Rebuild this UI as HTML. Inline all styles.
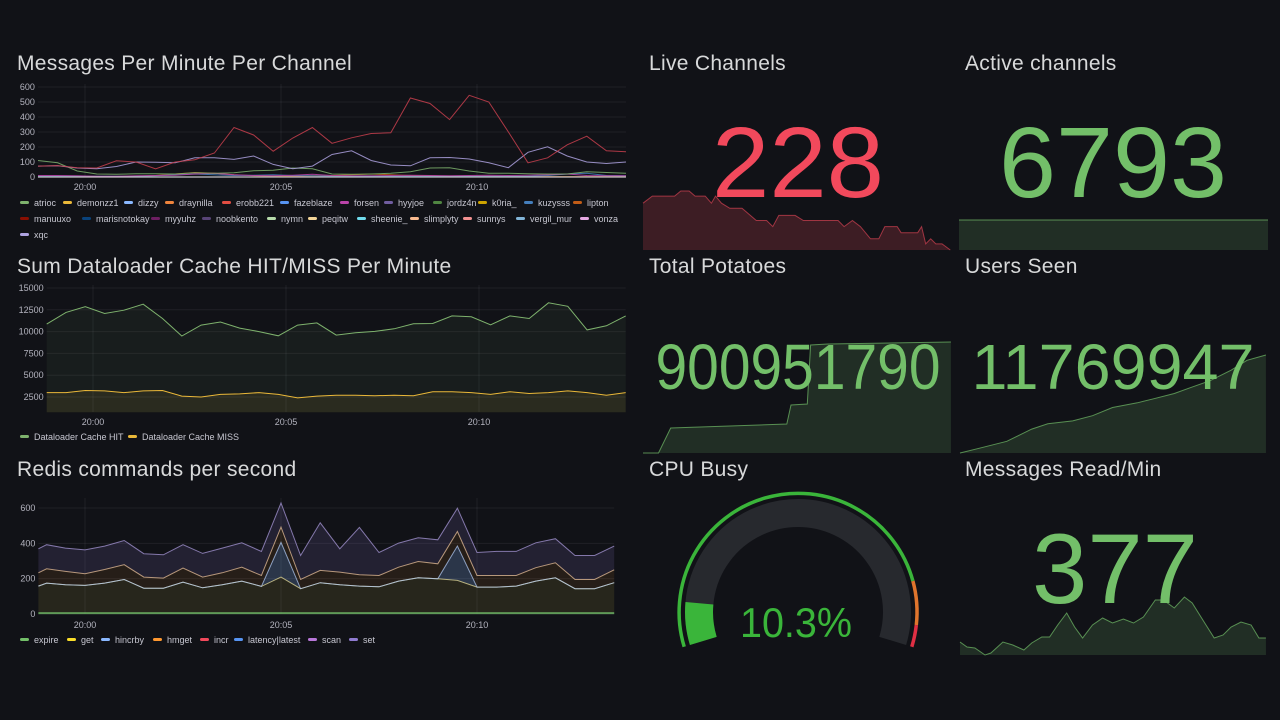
<!DOCTYPE html>
<html><head><meta charset="utf-8">
<style>
html,body{margin:0;padding:0;background:#111217;width:1280px;height:720px;overflow:hidden;font-family:"Liberation Sans",sans-serif;}
.title{position:absolute;font-size:21px;color:#d8d9da;line-height:24px;white-space:nowrap;letter-spacing:0.3px;}
.lg{position:absolute;font-size:9px;color:#c7c7d1;white-space:nowrap;line-height:12px;}
.lg i{display:inline-block;width:9px;height:3px;border-radius:2px;vertical-align:middle;margin-right:5px;margin-top:-2px;}
svg{position:absolute;left:0;top:0;}
</style></head>
<body>
<div class="title" style="left:17px;top:52px;">Messages Per Minute Per Channel</div>
<div class="title" style="left:17px;top:255px;">Sum Dataloader Cache HIT/MISS Per Minute</div>
<div class="title" style="left:17px;top:458px;">Redis commands per second</div>
<div class="title" style="left:649px;top:52px;">Live Channels</div>
<div class="title" style="left:965px;top:52px;">Active channels</div>
<div class="title" style="left:649px;top:255px;">Total Potatoes</div>
<div class="title" style="left:965px;top:255px;">Users Seen</div>
<div class="title" style="left:649px;top:458px;">CPU Busy</div>
<div class="title" style="left:965px;top:458px;">Messages Read/Min</div>

<div>
<div class="lg" style="left:20px;top:197px"><i style="background:#7EB26D"></i>atrioc</div>
<div class="lg" style="left:63px;top:197px"><i style="background:#EAB839"></i>demonzz1</div>
<div class="lg" style="left:124px;top:197px"><i style="background:#8AB8FF"></i>dizzy</div>
<div class="lg" style="left:165px;top:197px"><i style="background:#EF843C"></i>draynilla</div>
<div class="lg" style="left:222px;top:197px"><i style="background:#E24D42"></i>erobb221</div>
<div class="lg" style="left:280px;top:197px"><i style="background:#5794F2"></i>fazeblaze</div>
<div class="lg" style="left:340px;top:197px"><i style="background:#BA43A9"></i>forsen</div>
<div class="lg" style="left:384px;top:197px"><i style="background:#705DA0"></i>hyyjoe</div>
<div class="lg" style="left:433px;top:197px"><i style="background:#508642"></i>jordz4n</div>
<div class="lg" style="left:478px;top:197px"><i style="background:#CCA300"></i>k0ria_</div>
<div class="lg" style="left:524px;top:197px"><i style="background:#447EBC"></i>kuzysss</div>
<div class="lg" style="left:573px;top:197px"><i style="background:#C15C17"></i>lipton</div>
<div class="lg" style="left:20px;top:213px"><i style="background:#890F02"></i>manuuxo</div>
<div class="lg" style="left:82px;top:213px"><i style="background:#0A437C"></i>marisnotokay</div>
<div class="lg" style="left:151px;top:213px"><i style="background:#6D1F62"></i>myyuhz</div>
<div class="lg" style="left:202px;top:213px"><i style="background:#584477"></i>noobkento</div>
<div class="lg" style="left:267px;top:213px"><i style="background:#B7DBAB"></i>nymn</div>
<div class="lg" style="left:308px;top:213px"><i style="background:#F4D598"></i>peqitw</div>
<div class="lg" style="left:357px;top:213px"><i style="background:#70DBED"></i>sheenie_</div>
<div class="lg" style="left:410px;top:213px"><i style="background:#F9BA8F"></i>slimplyty</div>
<div class="lg" style="left:463px;top:213px"><i style="background:#F29191"></i>sunnys</div>
<div class="lg" style="left:516px;top:213px"><i style="background:#82B5D8"></i>vergil_mur</div>
<div class="lg" style="left:580px;top:213px"><i style="background:#E5A8E2"></i>vonza</div>
<div class="lg" style="left:20px;top:229px"><i style="background:#AEA2E0"></i>xqc</div>
</div>
<div>
<div class="lg" style="left:20px;top:431px"><i style="background:#7EB26D"></i>Dataloader Cache HIT</div>
<div class="lg" style="left:128px;top:431px"><i style="background:#EAB839"></i>Dataloader Cache MISS</div>
</div>
<div>
<div class="lg" style="left:20px;top:634px"><i style="background:#73BF69"></i>expire</div>
<div class="lg" style="left:67px;top:634px"><i style="background:#FADE2A"></i>get</div>
<div class="lg" style="left:101px;top:634px"><i style="background:#8AB8FF"></i>hincrby</div>
<div class="lg" style="left:153px;top:634px"><i style="background:#FF9830"></i>hmget</div>
<div class="lg" style="left:200px;top:634px"><i style="background:#F2495C"></i>incr</div>
<div class="lg" style="left:234px;top:634px"><i style="background:#5794F2"></i>latency|latest</div>
<div class="lg" style="left:308px;top:634px"><i style="background:#B877D9"></i>scan</div>
<div class="lg" style="left:349px;top:634px"><i style="background:#8F7BD0"></i>set</div>
</div>

<svg id="chart-svg" width="1280" height="720"></svg>

<script>
// ---------- data: Messages per minute ----------
const p1Times=[-1.2,-0.7,-0.2,0.3,0.8,1.3,1.8,2.3,2.8,3.3,3.8,4.3,4.8,5.3,5.8,6.3,6.8,7.3,7.8,8.3,8.8,9.3,9.8,10.3,10.8,11.3,11.8,12.3,12.8,13.3,13.8];
const erobbVals=[73,76,62,60,108,100,55,100,115,160,330,280,172,260,330,225,261,290,295,527,490,383,545,500,300,95,128,215,272,175,168];
const xqcVals=[73,75,60,55,70,100,98,95,128,128,117,140,84,55,73,150,175,110,80,75,128,130,120,95,62,165,201,140,100,90,100];
const atriocVals=[110,95,40,20,18,22,22,20,28,25,28,42,45,60,55,20,18,20,25,35,60,62,40,25,25,22,20,20,35,30,25];
const forsenVals=[10,10,8,5,5,8,10,12,20,25,15,10,8,12,18,10,8,8,10,12,10,8,10,12,10,12,15,20,10,8,8];
const kuzysssVals=[5,5,5,5,5,5,8,15,20,15,10,12,15,10,8,5,5,5,5,5,5,5,5,5,5,5,10,20,25,10,8];
const liptonVals=[2,2,2,3,3,5,10,20,30,25,15,8,5,5,8,10,15,20,15,10,8,5,5,5,3,3,3,3,3,3,3];
const p1YTicks=[0,100,200,300,400,500,600];
const timeTicks=[0,5,10];
const timeTickLabels=['20:00','20:05','20:10'];

// ---------- data: Dataloader cache ----------
const p2Times=[-1.2,-0.7,-0.2,0.3,0.8,1.3,1.8,2.3,2.8,3.3,3.8,4.3,4.8,5.3,5.8,6.3,6.8,7.3,7.8,8.3,8.8,9.3,9.8,10.3,10.8,11.3,11.8,12.3,12.8,13.3,13.8];
const hitVals=[10856,12200,12870,12070,12450,13140,11500,9500,10740,11100,10400,10000,9520,10740,11000,9600,9870,10020,10320,10900,10930,11800,11700,10780,11800,11500,13300,12900,10200,10670,11800];
const missVals=[3000,3000,3250,3200,3000,3200,3250,2600,2500,2800,2850,3000,2800,2400,2600,2700,2700,2650,2700,2650,3100,3100,3000,2800,3100,2900,3000,3200,3000,2700,3000];
const p2YTicks=[2500,5000,7500,10000,12500,15000];

// ---------- data: Redis ----------
const p3Times=[-1.19,-0.98,-0.5,0,0.5,1,1.5,2,2.5,3,3.5,4,4.5,5,5.5,6,6.5,7,7.5,8,8.5,9,9.5,10,10.5,11,11.5,12,12.5,13,13.5];
const expireVals=[5,5,5,5,5,5,5,5,5,5,5,5,5,5,5,5,5,5,5,5,5,5,5,5,5,5,5,5,5,5,5];
const getVals=[153,170,160,157,170,190,141,141,175,143,160,181,151,204,138,172,160,153,149,181,200,194,185,147,147,153,181,200,138,138,172];
const hincrbyVals=[0,0,0,0,0,0,0,0,0,0,0,0,0,196,0,0,0,0,0,0,0,0,195,0,0,0,0,0,0,0,0];
const hmgetVals=[75,81,76,66,77,84,63,57,80,61,68,79,62,87,52,70,72,64,64,79,92,85,82,66,66,60,76,85,52,52,73];
const setVals=[136,136,132,135,132,137,132,132,132,134,140,138,136,136,136,269,132,268,130,136,134,136,132,130,136,136,141,136,136,136,134];
const p3YTicks=[0,200,400,600];

// ---------- data: stat sparklines ----------
const liveTimes=[0,0.45,1.53,1.83,2.23,2.52,3.01,3.31,3.51,3.8,4.2,4.79,5.48,5.98,6.28,6.57,7.36,7.76,9.44,9.73,10.13,10.52,11.01,11.41,11.7,12.3,12.49,13.29,13.48,13.68,13.92,14.17,14.47,14.87];
const liveVals=[274,281,281,286,286,281,281,274,281,274,269,269,257,257,251,262,262,257,257,251,257,251,239,239,251,251,245,245,251,234,239,234,234,228];
const activeTimes=[0,15];
const activeVals=[6793,6793];
const potatoTimes=[0,0.75,1.34,6.96,7.16,7.95,8.11,8.94,14.9];
const potatoVals=[890.0,890.0,892.47,892.86,894.74,894.83,900.65,900.75,900.95];
const usersTimes=[0.05,0.97,2.32,3.53,4.31,5.52,6.48,7.45,8.66,9.44,10.45,11.23,12.19,13.21,13.98,14.9];
const usersVals=[11602,11610,11622,11643,11652,11657,11666,11680,11688,11695,11704,11714,11726,11744,11761,11770];
const readTimes=[0.05,0.39,0.77,1.26,1.55,2.13,2.61,3.15,3.53,4.02,4.4,4.79,5.23,5.61,6.0,6.48,6.97,7.45,7.98,8.47,8.95,9.53,9.92,10.45,10.94,11.32,11.9,12.39,12.82,13.21,13.69,14.18,14.56,14.9];
const readVals=[365,350,347,326,332,365,356,341,362,380,380,416,452,410,377,416,437,422,434,422,440,491,491,467,500,482,425,377,386,410,425,416,377,377];
const cpuValue=10.3;
const cpuThresholds=[0,85,95];
const cpuThresholdColors=['#3ab53a','#e0752d','#e02f44'];

// ---------- helpers ----------
const NS='http://www.w3.org/2000/svg';
const svg=document.getElementById('chart-svg');
function mk(tag,parent,attrs){const e=document.createElementNS(NS,tag);for(const k in attrs)e.setAttribute(k,attrs[k]);parent.appendChild(e);return e;}
function linePath(ts,vs,xf,yf){return ts.map((t,i)=>(i?'L':'M')+xf(t).toFixed(1)+','+yf(vs[i]).toFixed(1)).join('');}
function areaPath(ts,lo,hi,xf,yf){let d=ts.map((t,i)=>(i?'L':'M')+xf(t).toFixed(1)+','+yf(hi[i]).toFixed(1)).join('');
 for(let i=ts.length-1;i>=0;i--)d+='L'+xf(ts[i]).toFixed(1)+','+yf(lo[i]).toFixed(1);return d+'Z';}
const GRID='rgba(204,204,220,0.08)';
function axes(g,xf,yf,yTicks,xMin,xMax,yTop,yBot,xLabelY){
 for(const v of yTicks){
  const gl=mk('line',g,{x1:xf(xMin),x2:xf(xMax),y1:yf(v),y2:yf(v),stroke:GRID});
  
  
  const tl=mk('text',g,{x:xf(xMin)-3,y:yf(v)+3,'text-anchor':'end','font-size':'9','fill':'#b4b4bf'});
  tl.textContent=v;
  
  
 }
 timeTicks.forEach((t,i)=>{
  const gl=mk('line',g,{x1:xf(t),x2:xf(t),y1:yTop,y2:yBot,stroke:GRID});
  
  
  const tl=mk('text',g,{x:xf(t),y:xLabelY,'text-anchor':'middle','font-size':'9','fill':'#b4b4bf'});
  tl.textContent=timeTickLabels[i];
  
  
 });
}

// ---------- Panel 1 ----------
(function(){
 const g=mk('g',svg,{});
 
 
 const xf=t=>85+t*39.2, yf=v=>177-v*0.15;
 axes(g,xf,yf,p1YTicks,-1.2,13.8,84,177,190);
 const series=[[liptonVals,'#C15C17','line-lipton'],[kuzysssVals,'#447EBC','line-kuzysss'],[forsenVals,'#BA43A9','line-forsen'],[atriocVals,'#7EB26D','line-atrioc'],[xqcVals,'#AEA2E0','line-xqc'],[erobbVals,'#C8404D','line-erobb221']];
 for(const [vals,c,n] of series){
  const p=mk('path',g,{d:linePath(p1Times,vals,xf,yf),fill:'none',stroke:c,'stroke-width':'1','stroke-opacity':'0.85'});
  
  
 }
 const base=mk('line',g,{x1:xf(-1.2),x2:xf(13.8),y1:177,y2:177,stroke:'#d8d9da','stroke-width':'1.2','stroke-opacity':'0.9'});
 
 
})();

// ---------- Panel 2 ----------
(function(){
 const g=mk('g',svg,{});
 
 
 const xf=t=>93+t*38.6, yf=v=>288+(15000-v)*0.00872;
 const bottom=412;
 axes(g,xf,yf,p2YTicks,-1.2,13.8,285,bottom,425);
 const zeros=p2Times.map(()=>750);
 const a1=mk('path',g,{d:areaPath(p2Times,zeros,hitVals,xf,yf),fill:'rgba(126,178,109,0.07)'});
 
 
 const a2=mk('path',g,{d:areaPath(p2Times,zeros,missVals,xf,yf),fill:'rgba(234,184,57,0.09)'});
 
 
 const l1=mk('path',g,{d:linePath(p2Times,hitVals,xf,yf),fill:'none',stroke:'#7EB26D','stroke-width':'1'});
 
 
 const l2=mk('path',g,{d:linePath(p2Times,missVals,xf,yf),fill:'none',stroke:'#EAB839','stroke-width':'1'});
 
 
})();

// ---------- Panel 3 ----------
(function(){
 const g=mk('g',svg,{});
 
 
 const xf=t=>85+t*39.2, yf=v=>614-v*0.1767;
 axes(g,xf,yf,p3YTicks,-1.19,13.5,498,614,628);
 const layers=[[expireVals,'#73BF69','expire'],[getVals,'#E6DC9A','get'],[hincrbyVals,'#B0C8F0','hincrby'],[hmgetVals,'#E8C09A','hmget'],[setVals,'#A898D8','set']];
 const fills=['rgba(115,191,105,0.15)','rgba(234,214,74,0.10)','rgba(138,184,255,0.22)','rgba(255,152,48,0.09)','rgba(143,123,208,0.15)'];
 let lo=p3Times.map(()=>0);
 const cums=[];
 layers.forEach(([vals,c,n],k)=>{
  const hi=lo.map((v,i)=>v+vals[i]);
  const a=mk('path',g,{d:areaPath(p3Times,lo,hi,xf,yf),fill:fills[k]});
  
  
  cums.push([hi,c,n]);
  lo=hi;
 });
 for(const [hi,c,n] of cums){
  const l=mk('path',g,{d:linePath(p3Times,hi,xf,yf),fill:'none',stroke:c,'stroke-width':n==='expire'?'2':'1','stroke-opacity':'0.75'});
  
  
 }
})();

// ---------- Stat panels ----------
function spark(name,ts,vs,x0,x1,yTop,yBot,line,fill){
 const g=mk('g',svg,{});
 
 
 const mn=Math.min(...vs), mx=Math.max(...vs);
 const xf=t=>x0+t/15*(x1-x0);
 const yf=v=>mx===mn?yTop:yBot-(v-mn)/(mx-mn)*(yBot-yTop);
 let d=linePath(ts,vs,xf,yf);
 const a=mk('path',g,{d:d+'L'+xf(ts[ts.length-1])+','+yBot+'L'+xf(ts[0])+','+yBot+'Z',fill:fill});
 
 
 const l=mk('path',g,{d:d,fill:'none',stroke:line,'stroke-width':'1'});
 
 
}
function bigText(name,txt,x,y,size,color,len){
 const t=mk('text',svg,{x:x,y:y,'text-anchor':'middle','font-size':size,fill:color});
 if(len){t.setAttribute('textLength',len);t.setAttribute('lengthAdjust','spacingAndGlyphs');}
 t.textContent=txt;
 
 
}
const RF='rgba(242,73,92,0.2)', GF='rgba(115,191,105,0.17)';
spark('live-channels-sparkline',liveTimes,liveVals,643,953,191,250,'rgba(242,73,92,0.6)',RF);
spark('active-channels-sparkline',activeTimes,activeVals,959,1268,220,250,'rgba(115,191,105,0.7)',GF);
spark('total-potatoes-sparkline',potatoTimes,potatoVals,643,953,342,453,'rgba(115,191,105,0.7)',GF);
spark('users-seen-sparkline',usersTimes,usersVals,959,1268,355,453,'rgba(115,191,105,0.7)',GF);
spark('messages-read-sparkline',readTimes,readVals,959,1268,597,655,'rgba(115,191,105,0.7)',GF);
bigText('live-channels-value',String(liveVals[liveVals.length-1]),798,197,100,'#F2495C',172);
bigText('active-channels-value',String(activeVals[activeVals.length-1]),1113,197,100,'#73BF69',228);
bigText('total-potatoes-value','900951790',798,389,64,'#73BF69',285);
bigText('users-seen-value','11769947',1113,389,64,'#73BF69',283);
bigText('messages-read-value','377',1115,603,99,'#73BF69',166);

// ---------- Gauge ----------
(function(){
 const g=mk('g',svg,{});
 
 
 const cx=798, cy=612, a0=163, sweep=214;
 const ang=p=>(a0+sweep*p/100)*Math.PI/180;
 function arc(r,p1,p2){const s=ang(p1),e=ang(p2);const large=(e-s)>Math.PI?1:0;
  return 'M'+(cx+r*Math.cos(s)).toFixed(1)+','+(cy+r*Math.sin(s)).toFixed(1)+'A'+r+','+r+' 0 '+large+' 1 '+(cx+r*Math.cos(e)).toFixed(1)+','+(cy+r*Math.sin(e)).toFixed(1);}
 const track=mk('path',g,{d:arc(99,0,100),fill:'none',stroke:'#27292e','stroke-width':'28'});
 
 
 const val=mk('path',g,{d:arc(99,0,cpuValue),fill:'none',stroke:'#3ab53a','stroke-width':'28'});
 
 
 cpuThresholds.forEach((t,i)=>{
  const end=i+1<cpuThresholds.length?cpuThresholds[i+1]:100;
  const th=mk('path',g,{d:arc(119,t,end),fill:'none',stroke:cpuThresholdColors[i],'stroke-width':'3.5'});
  
  
 });
 bigText('cpu-busy-value',cpuValue+'%',796,637,42,'#3ab53a',112);
})();
</script>
</body></html>
